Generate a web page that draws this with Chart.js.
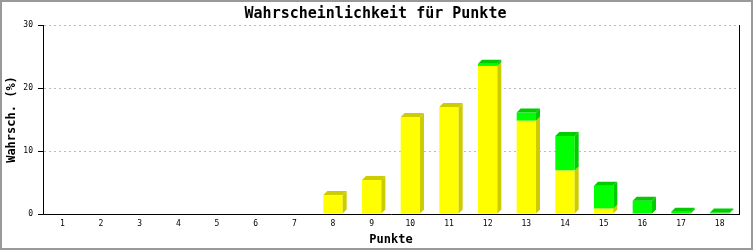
<!DOCTYPE html>
<html>
<head>
<meta charset="utf-8">
<script src="https://cdn.jsdelivr.net/npm/chart.js@4"></script>
<style>
  html, body { margin: 0; padding: 0; background: #ffffff; }
  #wrap { width: 753px; height: 250px; position: relative; }
  canvas { display: block; }
</style>
</head>
<body>
<div id="wrap"><canvas id="c" width="753" height="250"></canvas></div>
<script>
const categories = ['1','2','3','4','5','6','7','8','9','10','11','12','13','14','15','16','17','18'];
const yellowValues = [0, 0, 0, 0, 0, 0, 0, 3.0, 5.4, 15.4, 17.0, 23.5, 14.8, 6.9, 0.85, 0, 0, 0];
const greenValues  = [0, 0, 0, 0, 0, 0, 0, 0, 0, 0, 0, 0.35, 1.3, 5.5, 3.65, 2.1, 0.37, 0.25];
const yTicks = [0, 10, 20, 30];

const titleText = 'Wahrscheinlichkeit für Punkte';
const yTitle = 'Wahrsch. (%)';
const xTitle = 'Punkte';

const MONO = "'DejaVu Sans Mono', 'Liberation Mono', monospace";

const depth3d = {
  id: 'depth3d',
  afterDatasetsDraw(chart) {
    const ctx = chart.ctx;
    const d = 4;
    const sideColors = ['#cccc00', '#00cc00'];
    const n = chart.data.labels.length;
    ctx.save();
    for (let i = 0; i < n; i++) {
      let last = -1, lastEl = null;
      for (let k = 0; k < chart.data.datasets.length; k++) {
        const v = chart.data.datasets[k].data[i];
        if (!(v > 0)) continue;
        const el = chart.getDatasetMeta(k).data[i];
        const p = el.getProps(['x', 'y', 'base', 'width'], true);
        const right = p.x + p.width / 2;
        ctx.fillStyle = sideColors[k];
        ctx.beginPath();
        ctx.moveTo(right, p.y);
        ctx.lineTo(right + d, p.y - d);
        ctx.lineTo(right + d, p.base - d);
        ctx.lineTo(right, p.base);
        ctx.closePath();
        ctx.fill();
        last = k; lastEl = p;
      }
      if (last >= 0) {
        const p = lastEl;
        const left = p.x - p.width / 2, right = p.x + p.width / 2;
        ctx.fillStyle = sideColors[last];
        ctx.beginPath();
        ctx.moveTo(left, p.y);
        ctx.lineTo(left + d, p.y - d);
        ctx.lineTo(right + d, p.y - d);
        ctx.lineTo(right, p.y);
        ctx.closePath();
        ctx.fill();
      }
    }
    ctx.restore();
  },
  afterDraw(chart) {
    const ctx = chart.ctx;
    const a = chart.chartArea;
    ctx.save();
    ctx.strokeStyle = '#000000';
    ctx.lineWidth = 1;
    ctx.beginPath();
    ctx.moveTo(Math.round(a.right) + 0.5, a.top);
    ctx.lineTo(Math.round(a.right) + 0.5, a.bottom);
    ctx.stroke();
    ctx.strokeStyle = '#999999';
    ctx.lineWidth = 2;
    ctx.strokeRect(1, 1, chart.width - 2, chart.height - 2);
    ctx.restore();
  }
};

new Chart(document.getElementById('c'), {
  type: 'bar',
  data: {
    labels: categories,
    datasets: [
      { label: 'gelb', data: yellowValues, backgroundColor: '#ffff00', borderWidth: 0 },
      { label: 'grün', data: greenValues, backgroundColor: '#00ff00', borderWidth: 0 }
    ]
  },
  options: {
    responsive: false,
    animation: false,
    devicePixelRatio: 1,
    layout: { padding: { left: 12, right: 14, top: 0, bottom: 0 } },
    datasets: { bar: { categoryPercentage: 1.0, barPercentage: 0.5 } },
    plugins: {
      legend: { display: false },
      tooltip: { enabled: false },
      title: {
        display: true,
        text: titleText,
        color: '#000000',
        font: { family: MONO, size: 15, weight: 'bold', lineHeight: 1.2 },
        padding: { top: 5, bottom: 2 }
      }
    },
    scales: {
      x: {
        stacked: true,
        grid: { display: false, drawTicks: false },
        border: { display: true, color: '#000000', width: 1 },
        ticks: { color: '#000000', font: { family: MONO, size: 8 }, padding: 5, maxRotation: 0, autoSkip: false },
        title: {
          display: true, text: xTitle, color: '#000000',
          font: { family: MONO, size: 12, weight: 'bold', lineHeight: 1.2 },
          padding: { top: 0, bottom: 3 }
        },
        afterFit(scale) { scale.height = 36; }
      },
      y: {
        stacked: true,
        min: 0, max: 30,
        afterBuildTicks(scale) { scale.ticks = yTicks.map(v => ({ value: v })); },
        grid: {
          color: '#bbbbbb', lineWidth: 1,
          drawTicks: true, tickLength: 5, tickColor: '#000000', tickWidth: 1, tickBorderDash: []
        },
        border: { display: true, color: '#000000', width: 1, dash: [2, 3] },
        ticks: { color: '#000000', font: { family: MONO, size: 8 }, padding: 5 },
        title: {
          display: true, text: yTitle, color: '#000000',
          font: { family: MONO, size: 12, weight: 'bold', lineHeight: 1.2 },
          padding: { top: -7, bottom: 0 }
        },
        afterFit(scale) { scale.width = 31; }
      }
    }
  },
  plugins: [depth3d]
});
</script>
</body>
</html>
